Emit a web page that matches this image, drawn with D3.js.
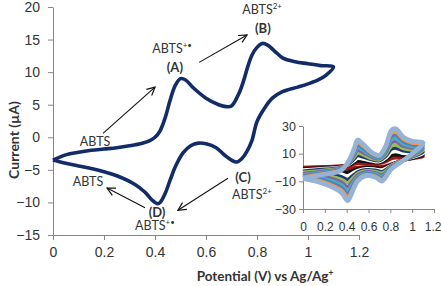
<!DOCTYPE html>
<html>
<head>
<meta charset="utf-8">
<script src="https://cdn.jsdelivr.net/npm/d3@7"></script>
<style>
  body { margin: 0; background: #fff; }
  svg { font-family: Lato, "Liberation Sans", sans-serif; }
  .axis path, .axis line { stroke: #868686; }
  .axis text { fill: #333; }
  .note { fill: #333; font-size: 12.5px; }
  .note.bold { font-weight: bold; font-size: 13px; }
</style>
</head>
<body>
<svg id="chart"></svg>
<script>
// main cyclic voltammogram (forward then reverse scan)
const mainPotential = [0, 0.05, 0.1, 0.15, 0.2, 0.25, 0.3, 0.35, 0.38, 0.4, 0.42, 0.44, 0.46, 0.48, 0.5, 0.52, 0.55, 0.6, 0.65, 0.68, 0.7, 0.73, 0.75, 0.765, 0.78, 0.8, 0.82, 0.84, 0.87, 0.9, 0.95, 1.0, 1.05, 1.1,
  1.07, 1.04, 1.0, 0.96, 0.9, 0.86, 0.83, 0.8, 0.78, 0.76, 0.74, 0.72, 0.7, 0.675, 0.64, 0.6, 0.57, 0.54, 0.51, 0.48, 0.46, 0.44, 0.42, 0.41, 0.39, 0.36, 0.32, 0.25, 0.2, 0.15, 0.1, 0.05, 0];
const mainCurrent = [-3.5, -2.7, -2.3, -2.0, -1.8, -1.6, -1.3, -0.9, -0.5, 0.0, 1.0, 3.0, 5.8, 8.0, 9.0, 8.8, 7.6, 6.0, 5.0, 4.7, 4.8, 6.8, 9.0, 11.0, 12.6, 13.8, 14.4, 14.2, 13.2, 12.2, 11.6, 11.3, 11.0, 10.8,
  9.5, 8.8, 8.2, 7.7, 7.0, 6.0, 4.5, 2.4, -0.5, -2.2, -3.3, -3.8, -3.5, -2.8, -1.6, -1.0, -0.9, -1.3, -2.4, -4.5, -6.5, -8.6, -10.0, -10.2, -9.7, -8.4, -7.2, -5.9, -5.3, -4.8, -4.4, -4.0, -3.5];

const xTicks = [0, 0.2, 0.4, 0.6, 0.8, 1, 1.2];
const yTicks = [-15, -10, -5, 0, 5, 10, 15, 20];

// inset: repeated cycles, same potential grid for every cycle
const insetPotential = [0, 0.2, 0.35, 0.42, 0.47, 0.5, 0.55, 0.63, 0.7, 0.76, 0.81, 0.85, 0.92, 1.0, 1.1,
  1.0, 0.9, 0.8, 0.75, 0.72, 0.66, 0.58, 0.5, 0.45, 0.41, 0.35, 0.2, 0];
const insetCycles = [
  [0, 0.5, 1, 1.5, 2.5, 3, 3, 3, 3, 4.5, 6.5, 7, 7, 7.5, 8, 6.5, 5, 2, 1, 0.5, 0.5, 0.5, 0, -0.5, -1, -1, -0.5, 0],
  [-0.9, -0.1, 0.7, 1.9, 3.8, 4.9, 4.5, 3.9, 3.7, 5.8, 8.8, 9.3, 8.7, 8.8, 9.1, 6.9, 4.9, 1.6, 0, -0.7, -0.3, -0.2, -1.1, -2.4, -3.5, -2.9, -1.8, -0.9],
  [-1.8, -0.7, 0.3, 2.3, 5, 6.7, 6.1, 4.8, 4.3, 7, 11, 11.6, 10.3, 10, 10.2, 7.3, 4.8, 1.1, -1, -1.8, -1.2, -0.9, -2.2, -4.4, -6.1, -4.7, -3, -1.8],
  [-2.7, -1.3, 0, 2.7, 6.3, 8.6, 7.7, 5.7, 5, 8.3, 13.3, 14, 12, 11.3, 11.3, 7.7, 4.7, 0.7, -2, -3, -2, -1.7, -3.3, -6.3, -8.6, -6.6, -4.3, -2.7],
  [-3.5, -1.9, -0.3, 3.1, 7.6, 10.5, 9.2, 6.5, 5.6, 9.6, 15.5, 16.2, 13.6, 12.6, 12.4, 8, 4.6, 0.2, -3, -4.1, -2.8, -2.4, -4.4, -8.2, -11.1, -8.5, -5.6, -3.5],
  [-4.5, -2.6, -0.7, 3.5, 8.9, 12.5, 10.8, 7.5, 6.4, 10.9, 18, 18.8, 15.4, 14, 13.6, 8.5, 4.4, -0.2, -4, -5.4, -3.7, -3.1, -5.6, -10.3, -13.9, -10.5, -6.9, -4.5],
  [-5.4, -3.2, -1, 3.8, 10.2, 14.4, 12.4, 8.4, 7, 12.2, 20.2, 21, 17, 15.2, 14.7, 8.8, 4.3, -0.7, -5, -6.5, -4.5, -3.9, -6.7, -12.2, -16.4, -12.4, -8.2, -5.4],
  [-6.2, -3.8, -1.3, 4.2, 11.5, 16.3, 13.9, 9.2, 7.7, 13.5, 22.5, 23.4, 18.7, 16.5, 15.8, 9.2, 4.2, -1.1, -6, -7.7, -5.4, -4.6, -7.8, -14.2, -18.9, -14.3, -9.5, -6.2],
  [-7.1, -4.4, -1.7, 4.6, 12.7, 18.1, 15.5, 10.1, 8.3, 14.7, 24.7, 25.7, 20.4, 17.7, 16.9, 9.6, 4.1, -1.6, -7, -8.8, -6.2, -5.3, -8.9, -16.1, -21.4, -16.2, -10.7, -7.1],
  [-8, -5, -2, 5, 14, 20, 17, 11, 9, 16, 27, 28, 22, 19, 18, 10, 4, -2, -8, -10, -7, -6, -10, -18, -24, -18, -12, -8]
];
const insetColors = ["#a01818", "#111111", "#ffffff", "#1f3a6e", "#9bbb59", "#8064a2", "#4bacc6", "#4f81bd", "#f79646", "#95b3d7"];
const insetXTicks = [0, 0.2, 0.4, 0.6, 0.8, 1, 1.2];
const insetYTicks = [-30, -10, 10, 30];

// annotations in data units
const arrows = [
  { from: [0.196, 0.6], to: [0.4, 7.7] },
  { from: [0.573, 11.5], to: [0.761, 15.7] },
  { from: [0.361, -10.8], to: [0.212, -7.8] },
  { from: [0.686, -6.3], to: [0.49, -11.2] }
];
const notes = [
  { x: 0.165, y: -1.4, text: "ABTS", sup: "", bold: false },
  { x: 0.467, y: 12.9, text: "ABTS", sup: "+\u2022", bold: false },
  { x: 0.478, y: 10, text: "(A)", sup: "", bold: true },
  { x: 0.82, y: 18.9, text: "ABTS", sup: "2+", bold: false },
  { x: 0.823, y: 16, text: "(B)", sup: "", bold: true },
  { x: 0.137, y: -7.5, text: "ABTS", sup: "", bold: false },
  { x: 0.408, y: -12.2, text: "(D)", sup: "", bold: true },
  { x: 0.4, y: -14.3, text: "ABTS", sup: "+\u2022", bold: false },
  { x: 0.745, y: -6.8, text: "(C)", sup: "", bold: true },
  { x: 0.78, y: -9.4, text: "ABTS", sup: "2+", bold: false }
];

const width = 441, height = 286;
const svg = d3.select("#chart").attr("width", width).attr("height", height);

const x = d3.scaleLinear().domain([0, 1.2]).range([53, 359]);
const y = d3.scaleLinear().domain([-15, 20]).range([235, 7]);

svg.append("g")
    .attr("class", "axis")
    .attr("transform", `translate(0, ${y(-15)})`)
    .call(d3.axisBottom(x).tickValues(xTicks).tickFormat(d3.format("~g")).tickSizeInner(5).tickSizeOuter(0).tickPadding(7))
    .call(g => g.selectAll("text").style("font-size", "14px"));

svg.append("g")
    .attr("class", "axis")
    .attr("transform", `translate(${x(0)}, 0)`)
    .call(d3.axisLeft(y).tickValues(yTicks).tickSizeInner(5).tickSizeOuter(0).tickPadding(8))
    .call(g => g.selectAll("text").style("font-size", "14px"));

svg.append("text")
    .attr("x", 265).attr("y", 281)
    .attr("text-anchor", "middle")
    .style("font-size", "13.5px").style("font-weight", "bold").style("fill", "#333")
    .text("Potential (V) vs Ag/Ag")
    .append("tspan").attr("baseline-shift", "super").style("font-size", "8.5px").text("+");

svg.append("text")
    .attr("transform", "translate(19, 140) rotate(-90)")
    .attr("text-anchor", "middle")
    .style("font-size", "14px").style("font-weight", "bold").style("fill", "#333")
    .text("Current (\u00b5A)");

const mainLine = d3.line()
    .x(i => x(mainPotential[i]))
    .y(i => y(mainCurrent[i]))
    .curve(d3.curveCatmullRom);

svg.append("path")
    .attr("d", mainLine(d3.range(mainPotential.length)))
    .attr("fill", "none")
    .attr("stroke", "#122c68")
    .attr("stroke-width", 3.6)
    .attr("stroke-linejoin", "round");

// arrows
svg.append("defs").append("marker")
    .attr("id", "head")
    .attr("viewBox", "0 0 10 10")
    .attr("refX", 9).attr("refY", 5)
    .attr("markerWidth", 10).attr("markerHeight", 10)
    .attr("markerUnits", "userSpaceOnUse")
    .attr("orient", "auto")
    .append("path")
    .attr("d", "M1,1 L9,5 L1,9")
    .attr("fill", "none")
    .attr("stroke", "#111")
    .attr("stroke-width", 1.2);

svg.selectAll("line.arrow")
    .data(arrows)
    .join("line")
    .attr("class", "arrow")
    .attr("x1", d => x(d.from[0])).attr("y1", d => y(d.from[1]))
    .attr("x2", d => x(d.to[0])).attr("y2", d => y(d.to[1]))
    .attr("stroke", "#111")
    .attr("stroke-width", 1.1)
    .attr("marker-end", "url(#head)");

svg.selectAll("text.note")
    .data(notes)
    .join("text")
    .attr("class", d => d.bold ? "note bold" : "note")
    .attr("x", d => x(d.x)).attr("y", d => y(d.y))
    .attr("text-anchor", "middle")
    .each(function (d) {
        const t = d3.select(this);
        t.text(d.text);
        if (d.sup) t.append("tspan").attr("baseline-shift", "super").style("font-size", "8px").text(d.sup);
    });

// inset
const ix = d3.scaleLinear().domain([0, 1.2]).range([303, 434]);
const iy = d3.scaleLinear().domain([-30, 30]).range([209, 126]);

svg.append("g")
    .attr("class", "axis")
    .attr("transform", `translate(0, ${iy(-30)})`)
    .call(d3.axisBottom(ix).tickValues(insetXTicks).tickFormat(d3.format("~g")).tickSizeInner(4).tickSizeOuter(0).tickPadding(9))
    .call(g => g.selectAll("text").style("font-size", "12px"))
    .call(g => g.select(".tick:last-of-type text").attr("text-anchor", "end").attr("dx", "7px"));

svg.append("g")
    .attr("class", "axis")
    .attr("transform", `translate(${ix(0)}, 0)`)
    .call(d3.axisLeft(iy).tickValues(insetYTicks).tickSizeInner(4).tickSizeOuter(0).tickPadding(3))
    .call(g => g.selectAll("text").style("font-size", "12.5px"));

const insetLine = d3.line()
    .x((v, i) => ix(insetPotential[i]))
    .y(v => iy(v))
    .curve(d3.curveCatmullRom);

svg.append("g").selectAll("path")
    .data(insetCycles)
    .join("path")
    .attr("d", d => insetLine(d))
    .attr("fill", "none")
    .attr("stroke", (d, i) => insetColors[i])
    .attr("stroke-width", (d, i) => i === insetCycles.length - 1 ? 4.5 : 3.5)
    .attr("stroke-linejoin", "round");
</script>
</body>
</html>
